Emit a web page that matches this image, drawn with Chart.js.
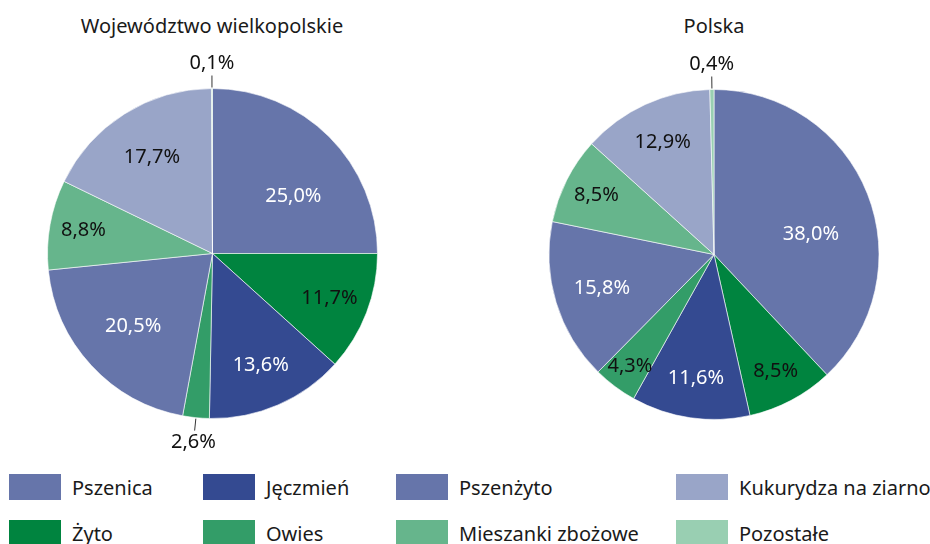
<!DOCTYPE html>
<html>
<head>
<meta charset="utf-8">
<script src="https://cdn.jsdelivr.net/npm/chart.js@4"></script>
<style>
  html, body { margin: 0; padding: 0; background: #fff; }
  body { width: 930px; height: 544px; position: relative; overflow: hidden; font-family: "Noto Sans", sans-serif; color: #1a1a1a; }
  .title { position: absolute; top: 12px; font-size: 20px; transform: translateX(-50%); white-space: nowrap; }
  canvas { position: absolute; }
  .lg { position: absolute; display: flex; align-items: center; white-space: nowrap; font-size: 20px; }
  .lg span.sw { width: 52px; height: 26px; margin-right: 11px; display: inline-block; }
</style>
</head>
<body>
<div class="title" id="t0" style="left:212px"></div>
<div class="title" id="t1" style="left:714px"></div>
<canvas id="c0" width="425" height="420" style="left:0;top:40px"></canvas>
<canvas id="c1" width="430" height="420" style="left:500px;top:40px"></canvas>
<div id="legend"></div>
<script>
// dane: struktura zasiewów (%), kolejność zgodnie z ruchem wskazówek zegara od góry
const CATEGORIES = ['Pszenica', 'Żyto', 'Jęczmień', 'Owies', 'Pszenżyto', 'Mieszanki zbożowe', 'Kukurydza na ziarno', 'Pozostałe'];
const WLKP_VALUES = [25.0, 11.7, 13.6, 2.6, 20.5, 8.8, 17.7, 0.1];
const PL_VALUES = [38.0, 8.5, 11.6, 4.3, 15.8, 8.5, 12.9, 0.4];
const TITLES = ['Województwo wielkopolskie', 'Polska'];

const COLORS = ['#6675aa', '#00843f', '#344a91', '#339d68', '#6675aa', '#66b58c', '#99a5c8', '#99cfb2'];
const TEXT_COLORS = ['#fff', '#111', '#fff', '#111', '#fff', '#111', '#111', '#111'];

function fmtPct(v) { return v.toFixed(1).replace('.', ',') + '%'; }

// ── etykiety procentowe ───────────────────────────────────────────────────────
const pctLabels = {
    id: 'pctLabels',
    afterDatasetsDraw(chart) {
        const ctx = chart.ctx;
        const meta = chart.getDatasetMeta(0);
        const vals = chart.data.datasets[0].data;
        ctx.save();
        ctx.font = '20px "Noto Sans", sans-serif';
        ctx.textAlign = 'center';
        ctx.textBaseline = 'middle';
        meta.data.forEach((arc, i) => {
            const v = vals[i];
            let mid = (arc.startAngle + arc.endAngle) / 2;
            const r = arc.outerRadius;
            if (v < 3) {
                const cos = Math.cos(mid), sin = Math.sin(mid);
                ctx.strokeStyle = '#333';
                ctx.lineWidth = 1;
                ctx.beginPath();
                ctx.moveTo(arc.x + cos * (r + 1), arc.y + sin * (r + 1));
                ctx.lineTo(arc.x + cos * (r + 13), arc.y + sin * (r + 13));
                ctx.stroke();
                ctx.fillStyle = '#111';
                ctx.fillText(fmtPct(v), arc.x + cos * (r + 25), arc.y + sin * (r + 25));
            } else {
                // duże wycinki: etykieta lekko przesunięta zgodnie z ruchem wskazówek
                if (v > 22) mid += 0.17;
                const f = Math.max(0.6, 0.9 - 0.012 * v);
                ctx.fillStyle = TEXT_COLORS[i];
                ctx.fillText(fmtPct(v), arc.x + Math.cos(mid) * r * f, arc.y + Math.sin(mid) * r * f);
            }
        });
        ctx.restore();
    },
};

function makePie(id, values, pad) {
    return new Chart(document.getElementById(id), {
        type: 'pie',
        data: {
            labels: CATEGORIES,
            datasets: [{ data: values, backgroundColor: COLORS, borderColor: 'rgba(255,255,255,0.6)', borderWidth: 1 }],
        },
        options: {
            responsive: false,
            animation: false,
            layout: { padding: pad },
            plugins: { legend: { display: false }, tooltip: { enabled: false } },
        },
        plugins: [pctLabels],
    });
}

document.getElementById('t0').textContent = TITLES[0];
document.getElementById('t1').textContent = TITLES[1];
makePie('c0', WLKP_VALUES, { top: 48, bottom: 41, left: 0, right: 0 });
makePie('c1', PL_VALUES, { top: 49, bottom: 40, left: 0, right: 2 });

// ── legenda (kolumnami, 2 wiersze) ───────────────────────────────────────────
const colX = [9, 203, 396, 676];
const rowY = [474, 520];
document.getElementById('legend').innerHTML = CATEGORIES.map((c, i) =>
    `<div class="lg" style="left:${colX[Math.floor(i / 2)]}px;top:${rowY[i % 2]}px;height:26px">
        <span class="sw" style="background:${COLORS[i]}"></span>${c}</div>`).join('');
</script>
</body>
</html>
